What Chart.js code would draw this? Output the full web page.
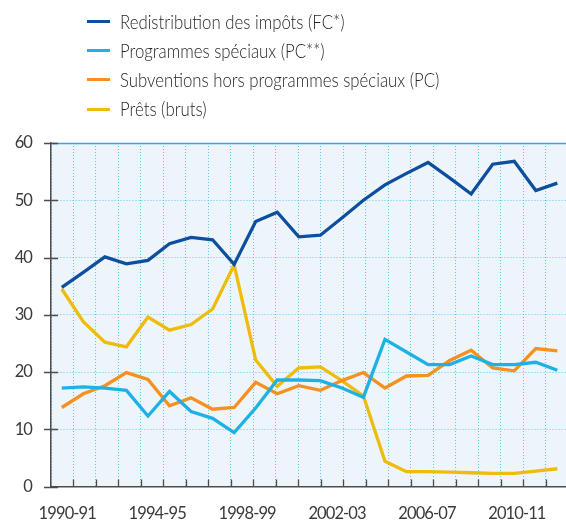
<!DOCTYPE html>
<html lang="fr">
<head>
<meta charset="utf-8">
<title>Transferts fédéraux</title>
<script src="https://cdn.jsdelivr.net/npm/chart.js@4.4.1/dist/chart.umd.min.js"></script>
<style>
  html, body { margin: 0; padding: 0; background: #fff; overflow: hidden; width: 566px; height: 522px; }
  #wrap { position: absolute; left: 0; top: 0; width: 574px; height: 522px; }
  #legend { position: absolute; left: 87px; top: 0; font-family: Lato, "Open Sans", sans-serif; font-weight: 300; color: #262626; z-index: 2; }
  .item { position: absolute; left: 0; height: 22px; white-space: nowrap; }
  .sw { position: absolute; left: 0; top: 9.5px; width: 23px; height: 3px; }
  .tx { position: absolute; left: 33px; top: 0; font-size: 19.5px; line-height: 22px; transform: scaleX(0.86); transform-origin: 0 50%; }
</style>
</head>
<body>
<div id="legend"></div>
<div id="wrap"><canvas id="chart"></canvas></div>
<script>
// Fiscal years of the series (one value per year)
const periods = [
  '1990-91', '1991-92', '1992-93', '1993-94', '1994-95', '1995-96', '1996-97', '1997-98',
  '1998-99', '1999-00', '2000-01', '2001-02', '2002-03', '2003-04', '2004-05', '2005-06',
  '2006-07', '2007-08', '2008-09', '2009-10', '2010-11', '2011-12', '2012-13', '2013-14'
];

// Category slots of the horizontal axis (labelled every fourth year)
const axisLabels = [
  '1990-91', '1991-92', '1992-93', '1993-94', '1994-95', '1995-96', '1996-97', '1997-98',
  '1998-99', '1999-00', '2000-01', '2001-02', '2002-03', '2003-04', '2004-05', '2005-06',
  '2006-07', '2007-08', '2008-09', '2009-10', '2010-11', '2011-12', '2012-13'
];

// Shares in percent
const redistribution = [34.8, 37.4, 40.1, 38.9, 39.5, 42.4, 43.5, 43.1, 38.8, 46.3, 47.9, 43.6,
                        43.9, 46.9, 50.0, 52.7, 54.7, 56.6, 53.9, 51.1, 56.3, 56.8, 51.7, 53.0];
const programmes     = [17.2, 17.4, 17.2, 16.8, 12.3, 16.6, 13.1, 11.9, 9.4, 13.7, 18.6, 18.6,
                        18.5, 17.2, 15.6, 25.7, 23.5, 21.3, 21.3, 22.8, 21.3, 21.3, 21.7, 20.3];
const subventions    = [13.8, 16.2, 17.6, 19.9, 18.7, 14.1, 15.5, 13.5, 13.8, 18.2, 16.2, 17.6,
                        16.8, 18.5, 19.9, 17.2, 19.3, 19.4, 22.0, 23.8, 20.7, 20.2, 24.1, 23.7];
const prets          = [34.5, 28.8, 25.2, 24.4, 29.6, 27.3, 28.3, 31.0, 38.7, 22.1, 17.5, 20.7,
                        20.9, 18.5, 15.8, 4.4, 2.6, 2.6, 2.5, 2.4, 2.3, 2.3, 2.7, 3.1];

const seriesNames = [
  'Redistribution des impôts (FC*)',
  'Programmes spéciaux (PC**)',
  'Subventions hors programmes spéciaux (PC)',
  'Prêts (bruts)'
];
const seriesColors = ['#0d4e9e', '#1fb1e6', '#f7901e', '#efbc0c'];

const yMin = 0, yMax = 60, yStep = 10;

const gridColor = '#5ec6ee';
const axisColor = '#4d4d4d';
const textColor = '#3a3a3a';
const tickFont = { family: 'Lato, "Open Sans", sans-serif', size: 16.5, weight: 400 };

// Plot background, top frame line and tick marks that straddle the axes
const plotFrame = {
  id: 'plotFrame',
  beforeDraw(chart) {
    const { ctx, chartArea: a } = chart;
    ctx.save();
    ctx.fillStyle = '#edf5fb';
    ctx.fillRect(a.left, a.top, a.right - a.left, a.bottom - a.top);
    ctx.restore();
    ctx.letterSpacing = '-0.9px';
  },
  afterDraw(chart) {
    const { ctx, chartArea: a } = chart;
    const xs = chart.scales.xAxis, ys = chart.scales.y;
    ctx.save();
    ctx.strokeStyle = '#2ea9e0';
    ctx.lineWidth = 1.5;
    ctx.beginPath();
    ctx.moveTo(a.left, Math.round(a.top) + 0.5);
    ctx.lineTo(a.right, Math.round(a.top) + 0.5);
    ctx.stroke();

    ctx.strokeStyle = axisColor;
    ctx.lineWidth = 1.3;
    ctx.beginPath();
    ys.ticks.forEach(t => {
      const y = Math.round(ys.getPixelForValue(t.value)) + 0.5;
      ctx.moveTo(a.left - 7, y);
      ctx.lineTo(a.left + 7, y);
    });
    const half = (xs.getPixelForValue(1) - xs.getPixelForValue(0)) / 2;
    for (let i = 1; i < axisLabels.length; i++) {
      const x = Math.round(xs.getPixelForValue(i) - half) + 0.5;
      ctx.moveTo(x, a.bottom - 7);
      ctx.lineTo(x, a.bottom);
    }
    ctx.stroke();
    ctx.restore();
  }
};

const values = [redistribution, programmes, subventions, prets];
const datasets = values.map((data, i) => ({
  label: seriesNames[i],
  data,
  borderColor: seriesColors[i],
  backgroundColor: seriesColors[i],
  borderWidth: 3.3,
  pointRadius: 0,
  tension: 0,
  fill: false,
  order: i
}));

const chart = new Chart(document.getElementById('chart'), {
  type: 'line',
  data: { labels: periods, datasets },
  plugins: [plotFrame],
  options: {
    responsive: true,
    maintainAspectRatio: false,
    animation: false,
    layout: { padding: { top: 143, right: 0, left: 0, bottom: 0 } },
    plugins: { legend: { display: false }, tooltip: { enabled: false } },
    scales: {
      x: {
        type: 'category',
        labels: periods,
        offset: true,
        display: false
      },
      xAxis: {
        type: 'category',
        labels: axisLabels,
        position: 'bottom',
        offset: true,
        grid: { offset: true, color: gridColor, lineWidth: 1, drawTicks: false },
        border: { display: true, color: axisColor, width: 1.5, dash: [1, 2] },
        ticks: {
          autoSkip: false,
          maxRotation: 0,
          padding: 17,
          labelOffset: 5,
          color: textColor,
          font: tickFont,
          callback: (v, i) => (i % 4 === 0 ? axisLabels[i] : '')
        },
        afterFit: s => { s.height = 35.5; }
      },
      y: {
        min: yMin,
        max: yMax,
        grid: { color: gridColor, lineWidth: 1, drawTicks: false },
        border: { display: true, color: axisColor, width: 1.5, dash: [1, 2] },
        ticks: { stepSize: yStep, padding: 19, color: textColor, font: tickFont },
        afterFit: s => { s.width = 51; }
      }
    }
  }
});

// Legend rows generated from the chart's datasets
const legendEl = document.getElementById('legend');
const rowTops = [10.5, 39.7, 68.8, 98];
chart.data.datasets.forEach((ds, i) => {
  const row = document.createElement('div');
  row.className = 'item';
  row.style.top = rowTops[i] + 'px';
  const sw = document.createElement('span');
  sw.className = 'sw';
  sw.style.background = ds.borderColor;
  const tx = document.createElement('span');
  tx.className = 'tx';
  tx.textContent = ds.label;
  row.appendChild(sw);
  row.appendChild(tx);
  legendEl.appendChild(row);
});
</script>
</body>
</html>
